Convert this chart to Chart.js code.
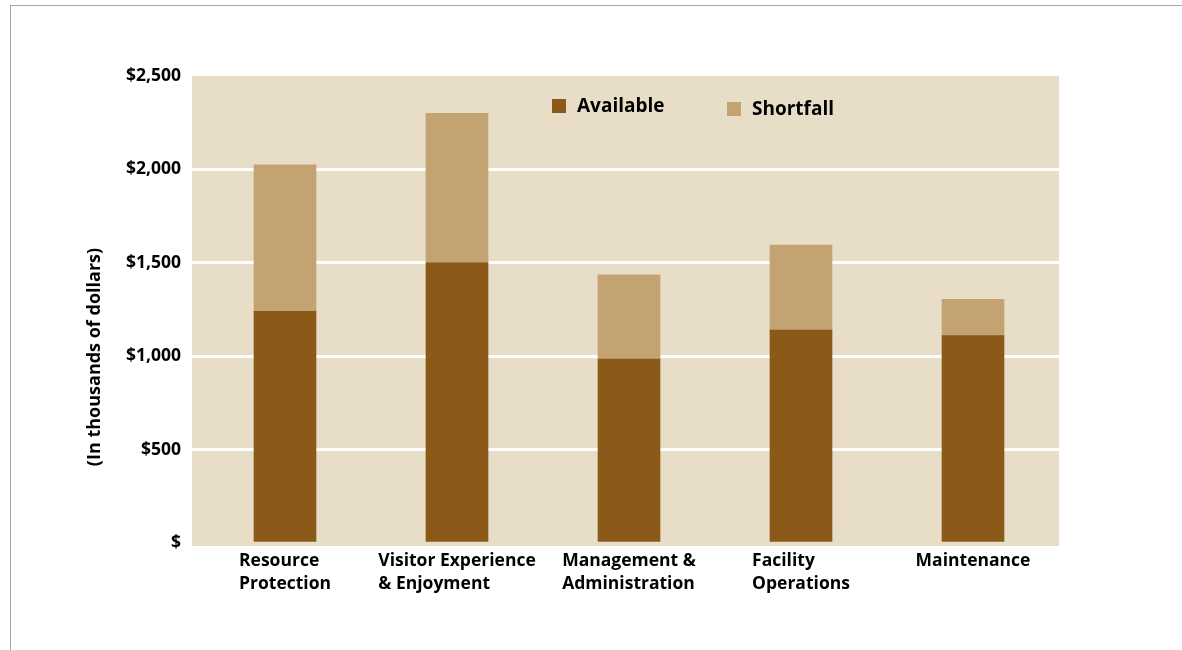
<!DOCTYPE html>
<html>
<head>
<meta charset="utf-8">
<script src="https://cdn.jsdelivr.net/npm/chart.js@4.4.0/dist/chart.umd.min.js"></script>
<style>
    html, body { margin: 0; padding: 0; background: #fff; overflow: hidden; }
    #wrap { position: relative; width: 1182px; height: 650px; }
    #frame {
        position: absolute; left: 10px; top: 5px; width: 1200px; height: 700px;
        border-top: 1px solid #a8a8a8; border-left: 1px solid #a8a8a8;
    }
    #chart { position: absolute; left: 0; top: 0; }
</style>
</head>
<body>
<div id="wrap">
    <div id="frame"></div>
    <canvas id="chart" width="1182" height="650"></canvas>
</div>
<script>
const categories = [
    ["Resource", "Protection"],
    ["Visitor Experience", "& Enjoyment"],
    ["Management &", "Administration"],
    ["Facility", "Operations"],
    ["Maintenance"]
];
const available = [1240, 1500, 985, 1140, 1110];
const shortfall = [785, 800, 450, 455, 195];
const yTicks = [0, 500, 1000, 1500, 2000, 2500];

const darkBrown = "#8b5a18";
const lightBrown = "#c4a372";
const plotBg = "#e8ddc7";
const fontName = "'Open Sans', 'DejaVu Sans', sans-serif";

// plot background, slightly deeper than the zero line like the original
const backgroundPlugin = {
    id: "plotBackground",
    afterLayout(chart) {
        // the bars sit a little to the right of the shaded area in the original
        let x = chart.scales.x;
        x.left = chart.chartArea.left + 7;
        x.width = x.right - x.left;
        x.configure();
    },
    beforeDraw(chart) {
        let a = chart.chartArea;
        let ctx = chart.ctx;
        ctx.save();
        ctx.fillStyle = plotBg;
        ctx.fillRect(a.left, a.top, a.right - a.left, a.bottom - a.top + 3);
        ctx.restore();
    }
};

// category labels: block centred on the bar, lines left aligned
// plus the rotated axis title and the legend inside the plot
const textPlugin = {
    id: "extraText",
    afterDraw(chart) {
        let ctx = chart.ctx;
        let a = chart.chartArea;
        let x = chart.scales.x;
        ctx.save();
        ctx.fillStyle = "#000";
        ctx.textBaseline = "middle";
        ctx.font = "bold 17.5px " + fontName;

        categories.forEach((lines, i) => {
            let cx = x.getPixelForValue(i);
            let w = Math.max(...lines.map(l => ctx.measureText(l).width));
            ctx.textAlign = "left";
            lines.forEach((line, j) => {
                ctx.fillText(line, cx - w / 2, a.bottom + 18 + j * 23);
            });
        });

        // y axis title
        ctx.save();
        ctx.font = "bold 18px " + fontName;
        ctx.translate(95, 357);
        ctx.rotate(-Math.PI / 2);
        ctx.textAlign = "center";
        ctx.fillText("(In thousands of dollars)", 0, 0);
        ctx.restore();

        // legend
        let items = [
            { label: "Available", color: darkBrown, x: 552, y: 99 },
            { label: "Shortfall", color: lightBrown, x: 727, y: 102 }
        ];
        ctx.font = "bold 19px " + fontName;
        ctx.textAlign = "left";
        items.forEach(it => {
            ctx.fillStyle = it.color;
            ctx.fillRect(it.x, it.y, 14, 14);
            ctx.fillStyle = "#000";
            ctx.fillText(it.label, it.x + 25, it.y + 8);
        });
        ctx.restore();
    }
};

let ctx = document.getElementById("chart").getContext("2d");

new Chart(ctx, {
    type: "bar",
    data: {
        labels: categories.map(c => c.join(" ")),
        datasets: [
            {
                label: "Available",
                data: available,
                backgroundColor: darkBrown,
                barThickness: 62
            },
            {
                label: "Shortfall",
                data: shortfall,
                backgroundColor: lightBrown,
                barThickness: 62
            }
        ]
    },
    options: {
        responsive: false,
        animation: false,
        events: [],
        layout: {
            padding: { left: 0, right: 123, top: 76, bottom: 107 }
        },
        plugins: {
            legend: { display: false },
            tooltip: { enabled: false }
        },
        scales: {
            x: {
                stacked: true,
                display: false
            },
            y: {
                stacked: true,
                min: 0,
                max: 2500,
                afterFit(scale) { scale.width = 192; },
                afterBuildTicks(scale) {
                    scale.ticks = yTicks.map(v => ({ value: v }));
                },
                border: { display: false },
                grid: {
                    drawTicks: false,
                    lineWidth: 3,
                    color: c => (c.tick.value === 0 || c.tick.value === 2500) ? "rgba(0,0,0,0)" : "#ffffff"
                },
                ticks: {
                    padding: 11,
                    color: "#000",
                    font: { family: fontName, size: 17.5, weight: "bold" },
                    callback: v => v === 0 ? "$" : "$" + v.toLocaleString("en-US")
                }
            }
        }
    },
    plugins: [backgroundPlugin, textPlugin]
});
</script>
</body>
</html>
